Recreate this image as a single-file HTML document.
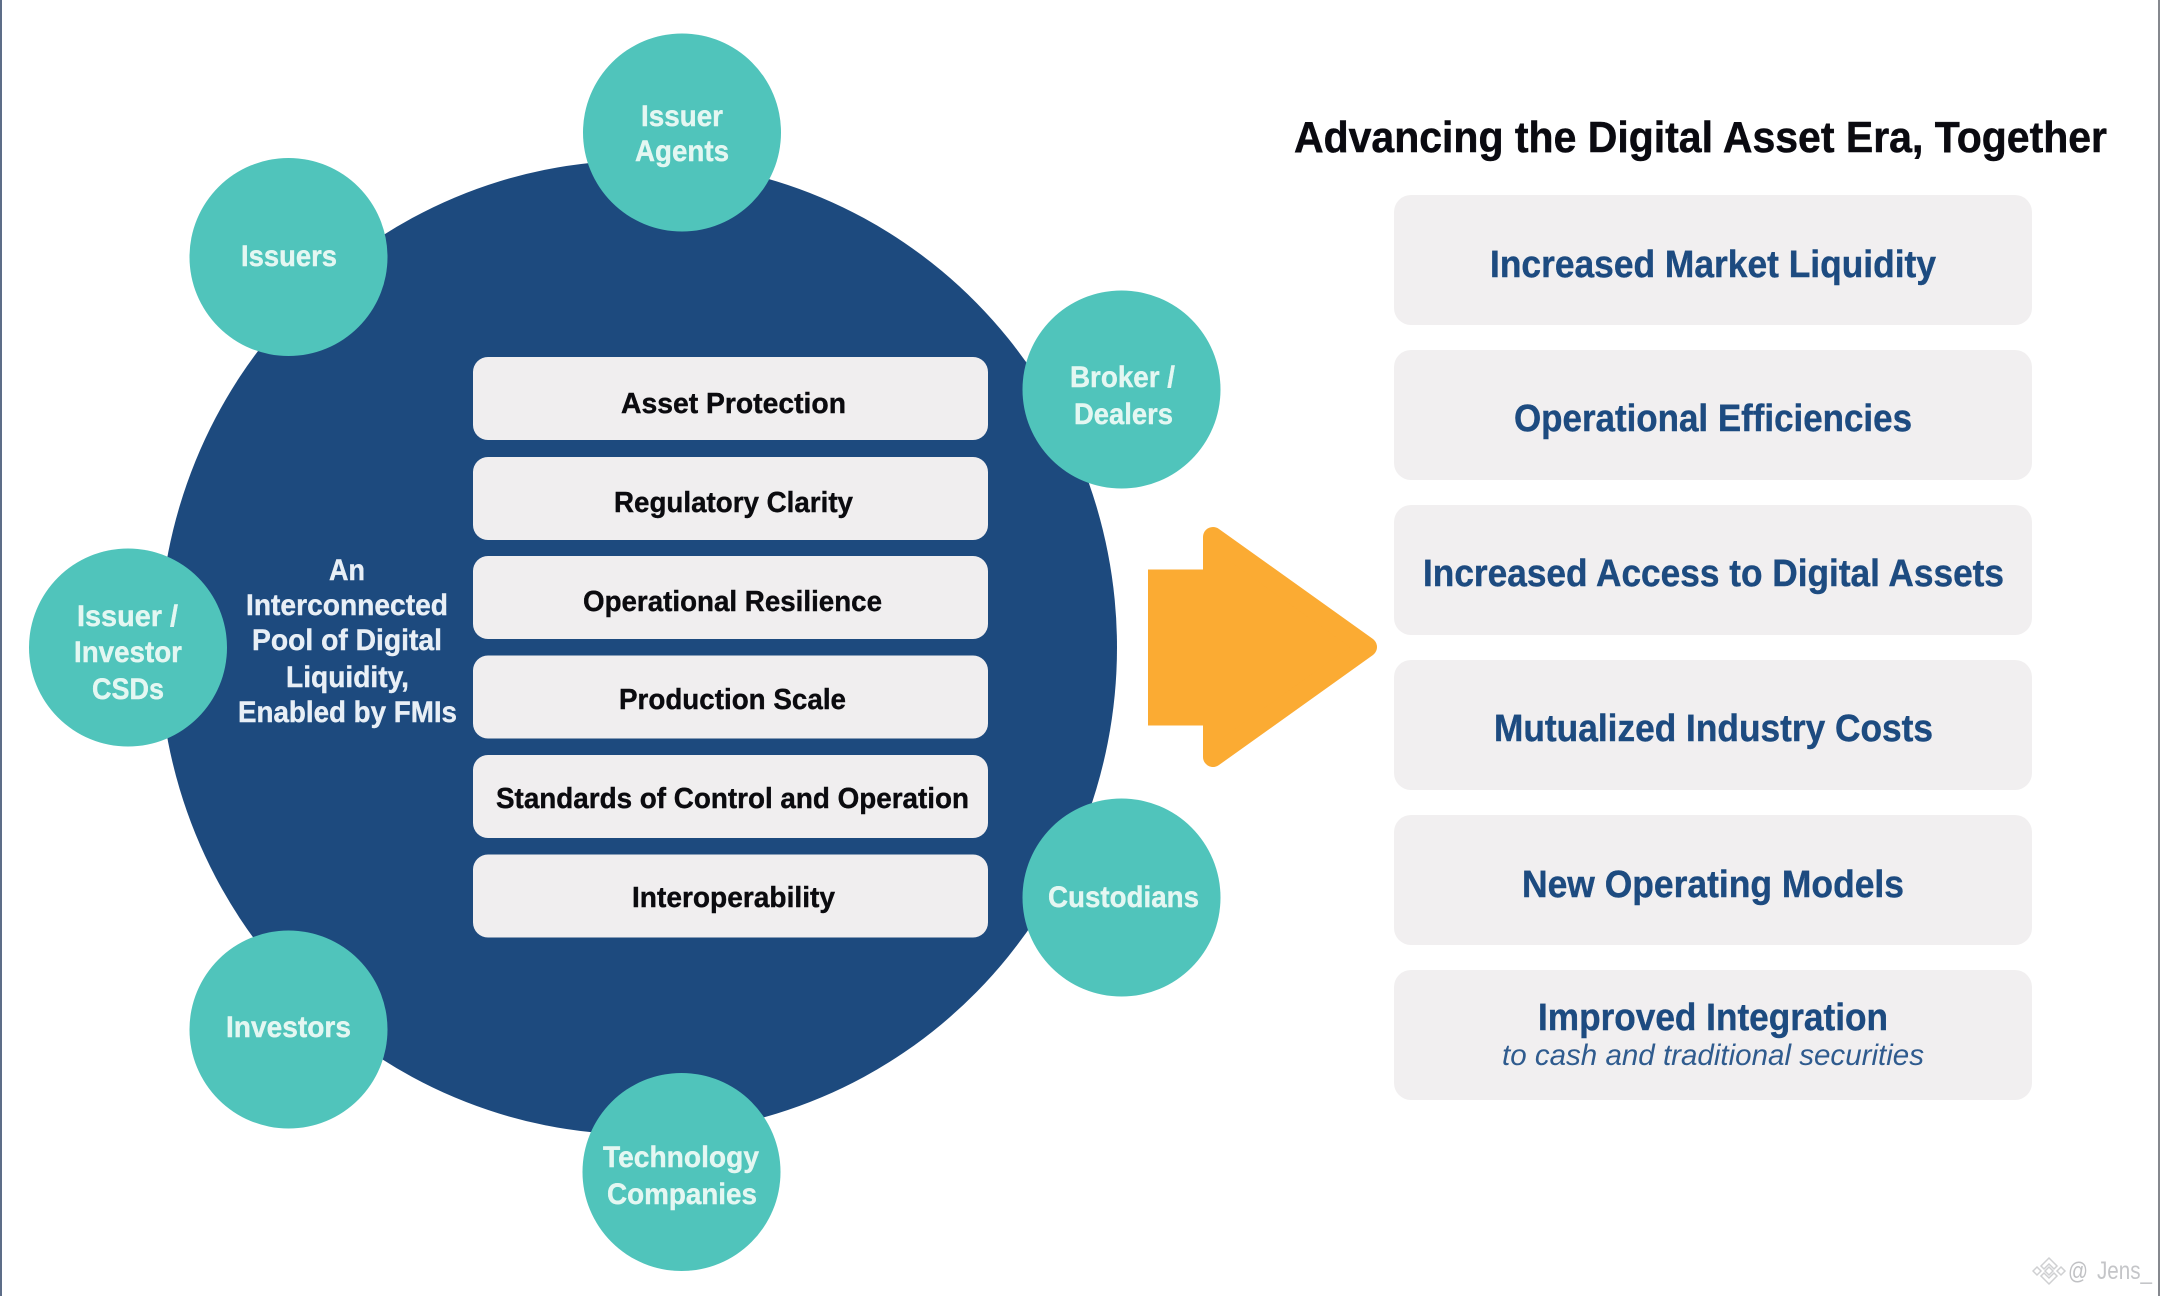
<!DOCTYPE html>
<html lang="en"><head><meta charset="utf-8"><title>Advancing the Digital Asset Era, Together</title>
<style>
html,body{margin:0;padding:0;background:#fff;width:2160px;height:1296px;overflow:hidden}
svg{display:block}
text{font-family:"Liberation Sans",Arial,sans-serif;font-weight:700}
.c{font-size:30px;fill:#e4f7f2;stroke:#e4f7f2;stroke-width:.4px}
.w{font-size:30px;fill:#e8eff6;stroke:#e8eff6;stroke-width:.4px}
.p{font-size:29px;fill:#0b0b0f;stroke:#0b0b0f;stroke-width:.4px}
.r{font-size:38px;fill:#1d4b80;stroke:#1d4b80;stroke-width:.4px}
</style></head><body>
<svg width="2160" height="1296" viewBox="0 0 2160 1296" xmlns="http://www.w3.org/2000/svg">
<rect width="2160" height="1296" fill="#ffffff"/>
<rect x="0" y="0" width="2" height="1296" fill="#5d6d88"/>
<rect x="2158" y="0" width="2" height="1296" fill="#85888e"/>

<ellipse cx="638" cy="647.500" rx="479" ry="487" fill="#1d4a7e"/>

<g fill="#f0eeef">
<rect x="473" y="357" width="515" height="83" rx="15"/>
<rect x="473" y="457" width="515" height="83" rx="15"/>
<rect x="473" y="556" width="515" height="83" rx="15"/>
<rect x="473" y="655.500" width="515" height="83" rx="15"/>
<rect x="473" y="755" width="515" height="83" rx="15"/>
<rect x="473" y="854.500" width="515" height="83" rx="15"/>
</g>
<g fill="#50c4bb">
<circle cx="682" cy="132.500" r="99"/>
<circle cx="288.500" cy="257" r="99"/>
<circle cx="1121.500" cy="389.500" r="99"/>
<circle cx="128" cy="647.500" r="99"/>
<circle cx="1121.500" cy="897.500" r="99"/>
<circle cx="288.500" cy="1029.500" r="99"/>
<circle cx="681.500" cy="1172" r="99"/>
</g>

<text class="c" x="641" y="126" textLength="82" lengthAdjust="spacingAndGlyphs">Issuer</text>
<text class="c" x="635" y="161" textLength="94" lengthAdjust="spacingAndGlyphs">Agents</text>
<text class="c" x="241" y="266" textLength="96" lengthAdjust="spacingAndGlyphs">Issuers</text>
<text class="c" x="1070" y="387" textLength="105" lengthAdjust="spacingAndGlyphs">Broker /</text>
<text class="c" x="1074" y="424" textLength="99" lengthAdjust="spacingAndGlyphs">Dealers</text>
<text class="c" x="77" y="626" textLength="101" lengthAdjust="spacingAndGlyphs">Issuer /</text>
<text class="c" x="74" y="662" textLength="108" lengthAdjust="spacingAndGlyphs">Investor</text>
<text class="c" x="92" y="699" textLength="72" lengthAdjust="spacingAndGlyphs">CSDs</text>
<text class="c" x="1048" y="907" textLength="151" lengthAdjust="spacingAndGlyphs">Custodians</text>
<text class="c" x="226" y="1037" textLength="125" lengthAdjust="spacingAndGlyphs">Investors</text>
<text class="c" x="603" y="1167" textLength="156" lengthAdjust="spacingAndGlyphs">Technology</text>
<text class="c" x="607" y="1204" textLength="150" lengthAdjust="spacingAndGlyphs">Companies</text>

<text class="w" x="329" y="580" textLength="36" lengthAdjust="spacingAndGlyphs">An</text>
<text class="w" x="246" y="615" textLength="202" lengthAdjust="spacingAndGlyphs">Interconnected</text>
<text class="w" x="252" y="650" textLength="190" lengthAdjust="spacingAndGlyphs">Pool of Digital</text>
<text class="w" x="286" y="687" textLength="123" lengthAdjust="spacingAndGlyphs">Liquidity,</text>
<text class="w" x="238" y="722" textLength="219" lengthAdjust="spacingAndGlyphs">Enabled by FMIs</text>

<text class="p" x="621" y="413" textLength="225" lengthAdjust="spacingAndGlyphs">Asset Protection</text>
<text class="p" x="614" y="512" textLength="239" lengthAdjust="spacingAndGlyphs">Regulatory Clarity</text>
<text class="p" x="583" y="611" textLength="299" lengthAdjust="spacingAndGlyphs">Operational Resilience</text>
<text class="p" x="619" y="709" textLength="227" lengthAdjust="spacingAndGlyphs">Production Scale</text>
<text class="p" x="496" y="808" textLength="473" lengthAdjust="spacingAndGlyphs">Standards of Control and Operation</text>
<text class="p" x="632" y="907" textLength="203" lengthAdjust="spacingAndGlyphs">Interoperability</text>

<rect x="1148" y="569.500" width="70" height="156" fill="#fbab33"/>
<path d="M1213 537L1367 647L1213 757Z" fill="#fbab33" stroke="#fbab33" stroke-width="20" stroke-linejoin="round"/>

<text x="1294" y="152" textLength="813" lengthAdjust="spacingAndGlyphs" font-size="44" fill="#0a0a10" stroke="#0a0a10" stroke-width=".5">Advancing the Digital Asset Era, Together</text>

<g fill="#f1eff0">
<rect x="1394" y="195" width="638" height="130" rx="17"/>
<rect x="1394" y="350" width="638" height="130" rx="17"/>
<rect x="1394" y="505" width="638" height="130" rx="17"/>
<rect x="1394" y="660" width="638" height="130" rx="17"/>
<rect x="1394" y="815" width="638" height="130" rx="17"/>
<rect x="1394" y="970" width="638" height="130" rx="17"/>
</g>
<text class="r" x="1490" y="277" textLength="446" lengthAdjust="spacingAndGlyphs">Increased Market Liquidity</text>
<text class="r" x="1514" y="431" textLength="398" lengthAdjust="spacingAndGlyphs">Operational Efficiencies</text>
<text class="r" x="1423" y="586" textLength="581" lengthAdjust="spacingAndGlyphs">Increased Access to Digital Assets</text>
<text class="r" x="1494" y="741" textLength="439" lengthAdjust="spacingAndGlyphs">Mutualized Industry Costs</text>
<text class="r" x="1522" y="897" textLength="382" lengthAdjust="spacingAndGlyphs">New Operating Models</text>
<text class="r" x="1538" y="1030" textLength="350" lengthAdjust="spacingAndGlyphs">Improved Integration</text>
<text x="1502" y="1065" textLength="422" lengthAdjust="spacingAndGlyphs" font-size="30" fill="#2f5b8e" style="font-weight:400;font-style:italic">to cash and traditional securities</text>

<g fill="#ffffff" stroke="#cfd0d2" stroke-width="1.500">
<path d="M2049 1258l8 8-3 3-5-5-5 5-3-3z"/>
<path d="M2049 1284l8-8-3-3-5 5-5-5-3 3z"/>
<path d="M2037 1267l4 4-4 4-4-4z"/>
<path d="M2061 1267l4 4-4 4-4-4z"/>
<path d="M2049 1267l4 4-4 4-4-4z"/>
</g>
<text x="2068" y="1279" textLength="20" lengthAdjust="spacingAndGlyphs" font-size="24" fill="#c0c1c4" style="font-weight:400">@</text>
<text x="2097" y="1279" textLength="55" lengthAdjust="spacingAndGlyphs" font-size="25" fill="#c4c5c8" style="font-weight:400">Jens_</text>
</svg>
</body></html>
